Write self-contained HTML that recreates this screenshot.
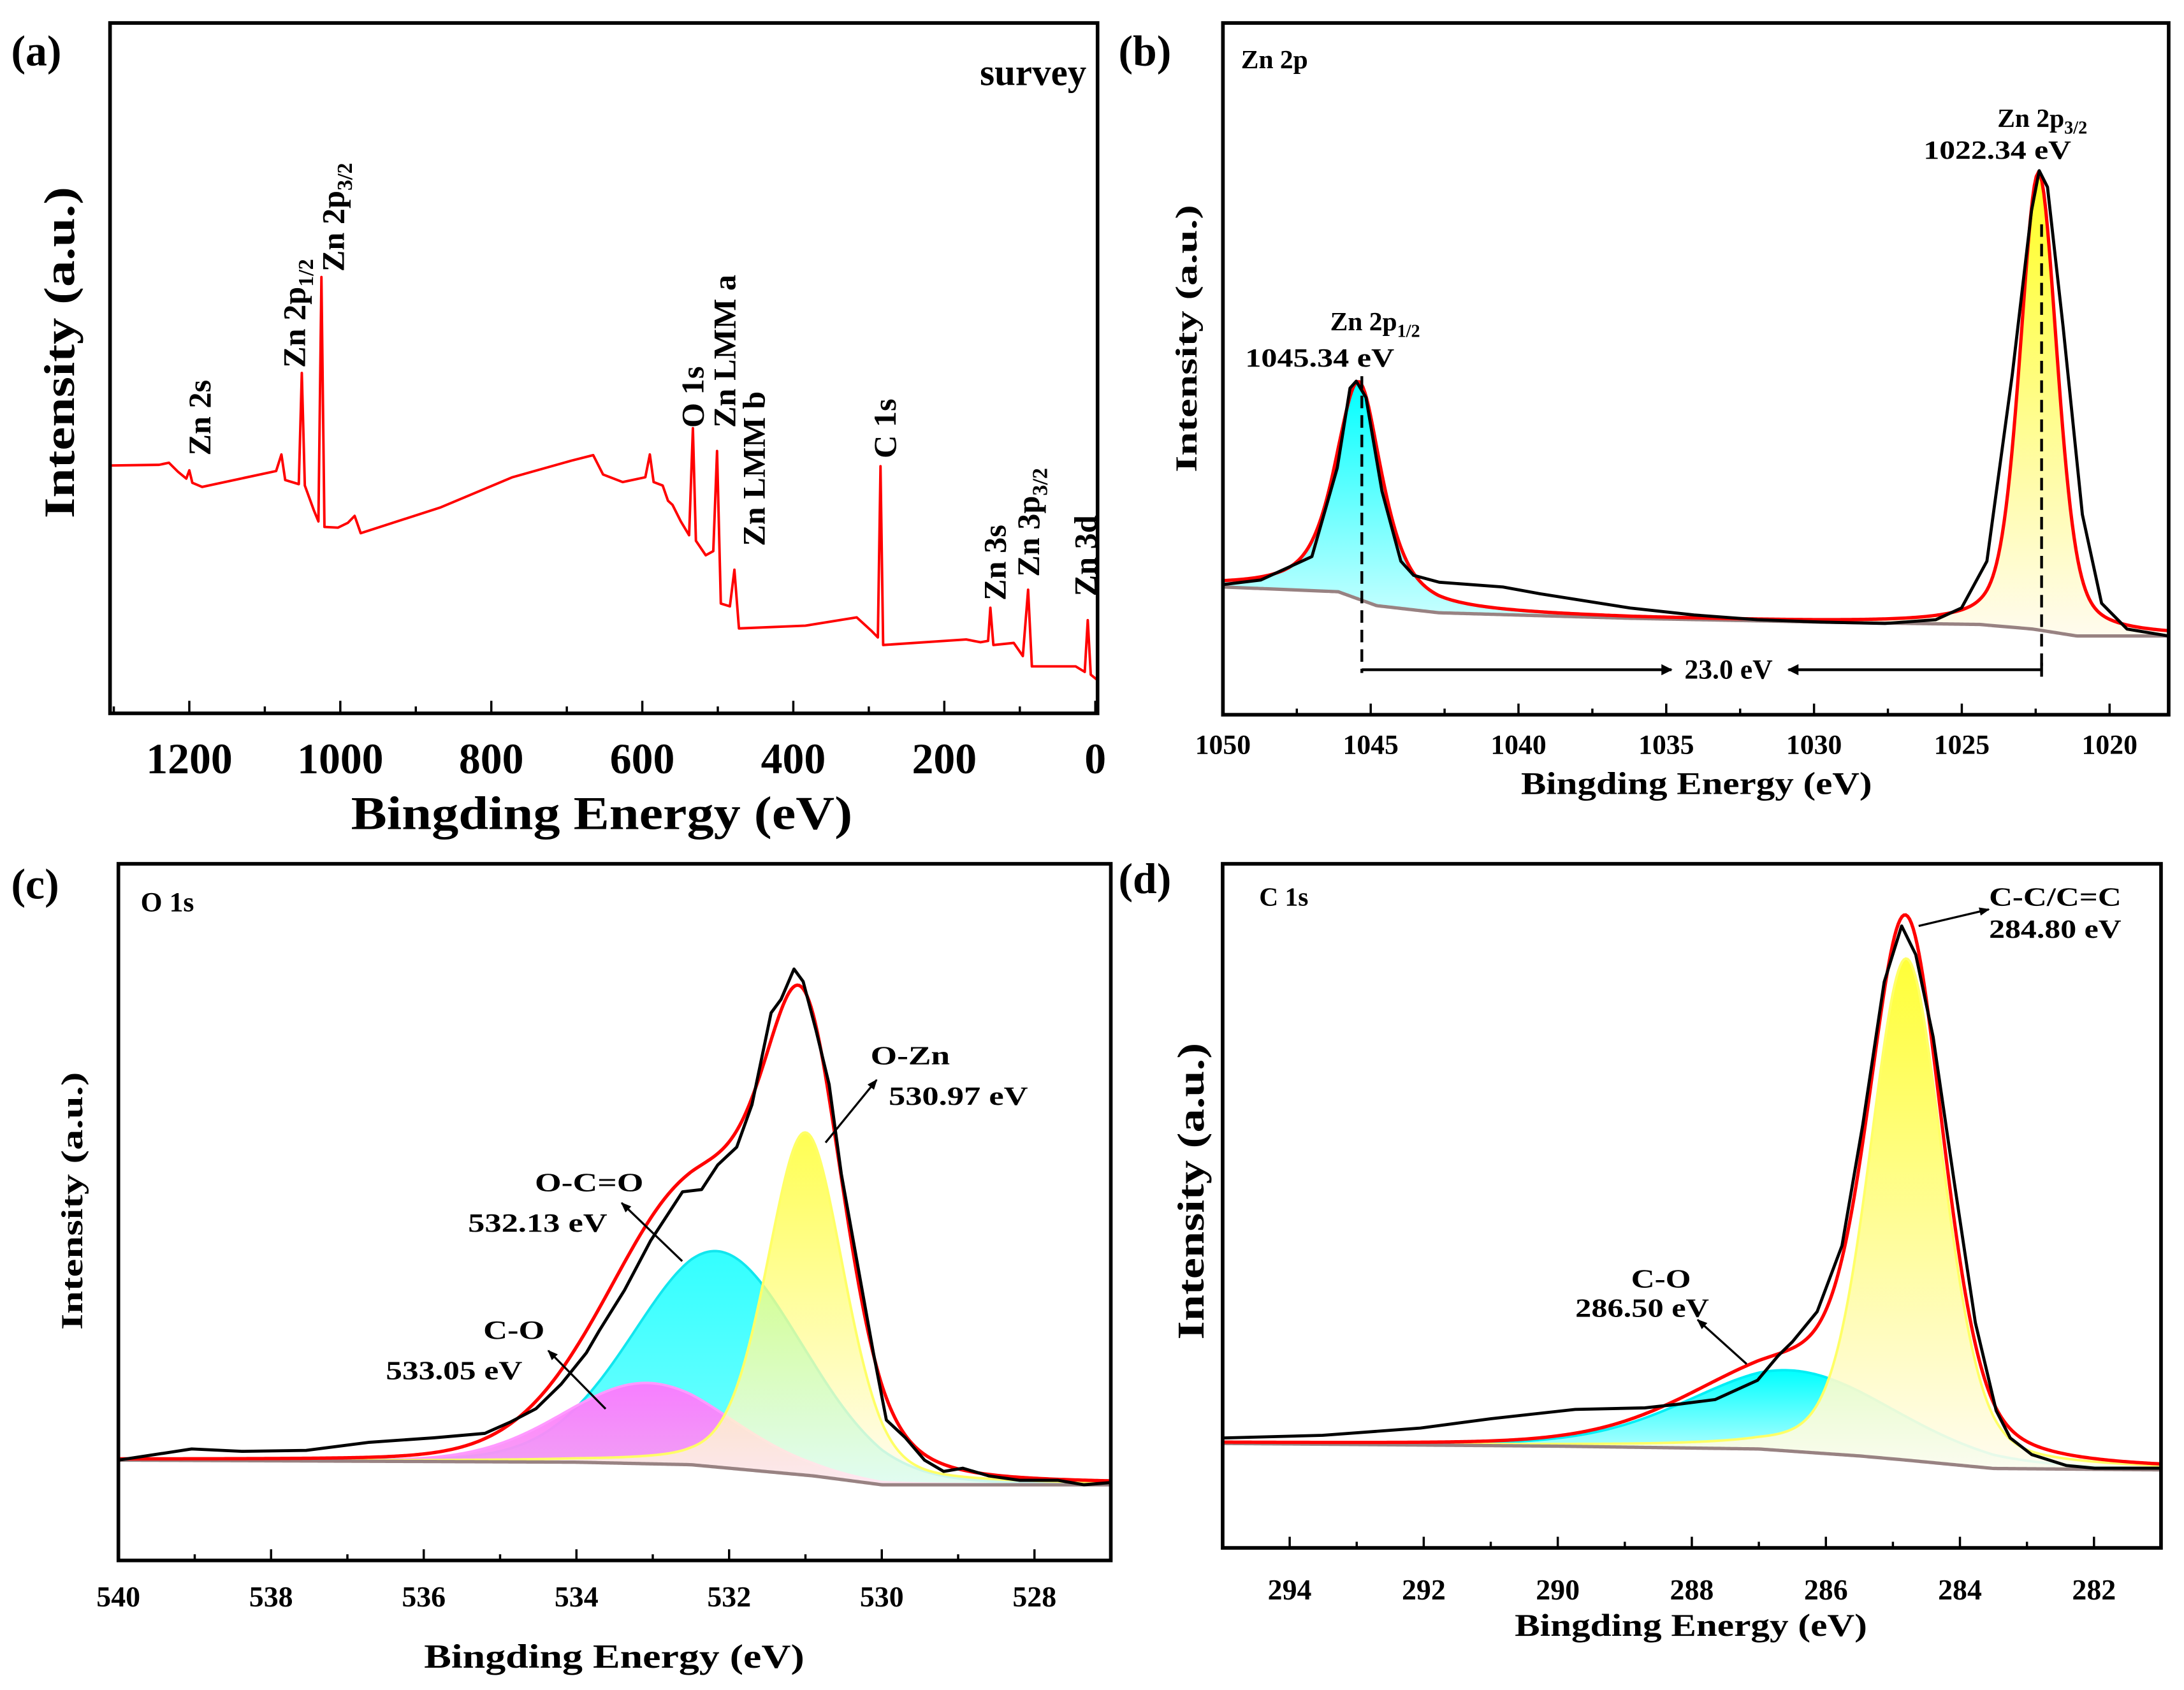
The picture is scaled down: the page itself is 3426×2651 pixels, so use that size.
<!DOCTYPE html>
<html><head><meta charset="utf-8"><title>XPS spectra</title>
<style>
html,body{margin:0;padding:0;background:#fff;}
svg{display:block;}
text{font-family:"Liberation Serif","Times New Roman",serif;font-weight:bold;fill:#000;}
</style></head>
<body>
<svg id="chart" xmlns="http://www.w3.org/2000/svg" width="3426" height="2651" viewBox="0 0 1568 1213" preserveAspectRatio="none" font-family="'Liberation Serif','Times New Roman',serif" font-weight="bold">
<defs>
<linearGradient id="gCyan" x1="0" y1="0" x2="0" y2="1"><stop offset="0" stop-color="#00ffff"/><stop offset="1" stop-color="#d8ffff"/></linearGradient>
<linearGradient id="gCyanC" x1="0" y1="0" x2="0" y2="1"><stop offset="0" stop-color="#33ffff"/><stop offset="1" stop-color="#7ff"/></linearGradient>
<linearGradient id="gYel" x1="0" y1="0" x2="0" y2="1"><stop offset="0" stop-color="#ffff22"/><stop offset="1" stop-color="#fffbee"/></linearGradient>
<linearGradient id="gMag" x1="0" y1="0" x2="0" y2="1"><stop offset="0" stop-color="#ff77ff"/><stop offset="1" stop-color="#f7a0f2"/></linearGradient>
<marker id="arrS" viewBox="0 0 10 10" refX="9" refY="5" markerWidth="5" markerHeight="5" orient="auto-start-reverse"><path d="M0,1 L10,5 L0,9 Z" fill="#000"/></marker>
<marker id="arrB" viewBox="0 0 10 10" refX="9" refY="5" markerWidth="5" markerHeight="4" orient="auto-start-reverse"><path d="M0,0 L10,5 L0,10 Z" fill="#000"/></marker>
<clipPath id="clipA"><rect x="79" y="16.5" width="709" height="495.5"/></clipPath>
<clipPath id="clipB"><rect x="878" y="16.5" width="679" height="496.5"/></clipPath>
<clipPath id="clipC"><rect x="85" y="620" width="712.5" height="500"/></clipPath>
<clipPath id="clipD"><rect x="877.8" y="620" width="673.7" height="491"/></clipPath>
</defs>
</svg>
<script>
// ---------- DATA ----------
// Panel (a) survey: binding energy (eV) and intensity (% of axis height)
const surveyE = [1304,1240,1227,1215,1204,1200,1196,1183,1085,1078,1073,1055,1051,1047,1035,1029,1025,1021,1003,990,981,973,868,772,694,665,652,626,596,590,585,573,566,560,549,538,533,529,516,506,501,496,484,478,472,384,316,297,288,284.5,281,171,152,142,139,135,108,96,89,84,26,14,10,6,-3];
const surveyI = [35.9,36.0,36.3,35.0,34.0,35.2,33.4,32.8,35.1,37.5,33.8,33.2,49.3,33.0,29.4,27.8,63.2,27.0,26.9,27.6,28.6,26.1,29.8,34.2,36.6,37.4,34.6,33.5,34.2,37.5,33.5,33.0,30.8,30.2,27.8,25.8,41.3,25.0,22.9,23.5,38.0,15.9,15.5,20.8,12.3,12.7,13.9,12.0,11.0,35.8,9.9,10.7,10.3,10.5,15.3,9.9,10.2,8.3,17.9,6.8,6.8,6.0,13.5,5.6,4.8];
const surveyTicks = [1200,1000,800,600,400,200,0];

// Panel (b) Zn 2p
const znRawE = [1050.0,1048.72,1046.99,1046.13,1045.7,1045.49,1045.16,1044.62,1043.98,1043.55,1042.68,1040.53,1039.24,1036.22,1034.06,1031.91,1029.75,1027.6,1025.88,1025.01,1024.15,1023.29,1022.64,1022.38,1022.1,1021.57,1020.92,1020.27,1019.41,1018.0];
const znRawI = [93.4,96.7,113.5,177.3,234.4,239.4,227.7,160.5,110.2,100.1,95.1,91.7,86.7,76.6,71.6,68.2,66.5,65.5,68.2,76.6,110.2,244.4,361.9,390.5,378.7,278,143.7,80,61.5,56.5];
const znBgE = [1050,1046.1,1044.8,1042.7,1036.2,1029.8,1024.4,1022.6,1021.1,1018];
const znBgI = [91.7,88.3,78.3,73.2,69.2,66.5,64.8,61.5,56.5,56.5];
const znPeakCenter = [1045.4,1022.4];
const znPeakHeight = [156,328];
const znPeakFwhm = [1.9,1.5];
const znPeakEta = [0.7,0.4];
const znTicks = [1050,1045,1040,1035,1030,1025,1020];

// Panel (c) O 1s
const oRawE = [540.0,539.04,538.38,537.54,536.71,535.87,535.2,534.87,534.53,534.2,533.87,533.7,533.37,533.03,532.61,532.36,532.15,531.9,531.7,531.45,531.32,531.15,531.03,530.86,530.69,530.53,530.32,530.11,529.94,529.69,529.44,529.19,528.94,528.6,528.19,527.69,527.35,527.0];
const oRawI = [72,80,78.3,79,84.8,88,91.2,99.2,108.9,126.5,149,165,194,229.3,264.6,266.2,283.8,296.7,327.2,393,402.7,424.5,415.5,380.2,341.7,277.4,213.2,149,100.8,88,72,63.9,66.2,60.7,57.5,57.5,54.3,55.9];
const oBgE = [540,534,532.5,530.9,530,527];
const oBgI = [72,70.5,68.7,60.7,54.3,54.3];
const oPeakCenter = [532.15,533.07,531.0];
const oPeakHeight = [155,58,246];
const oPeakFwhm = [2.6,2.6,1.2];
const oPeakEta = [0.1,0.1,0.3];
const oTicks = [540,538,536,534,532,530,528];

// Panel (d) C 1s
const cRawE = [294.98,293.51,292.05,291.0,289.74,288.70,288.17,287.65,287.02,286.71,286.50,286.13,285.76,285.45,285.13,284.87,284.66,284.40,284.09,283.77,283.46,283.25,282.93,282.41,281.99,281.0];
const cRawI = [78.9,80.8,86,92.7,99.4,100.5,103.3,106.5,120.3,138,147.9,169.6,216.9,303.7,406.2,446.4,425.9,366.8,264.2,161.7,98.6,78.9,67.0,59.1,57.2,57.2];
const cBgE = [295,290,287,285.5,284.8,283.5,281];
const cBgI = [75,73,71,66,63,57,56];
const cPeakCenter = [286.5,284.8];
const cPeakHeight = [58,360];
const cPeakFwhm = [3.6,1.3];
const cPeakEta = [0.2,0.3];
const cTicks = [294,292,290,288,286,284,282];

// ---------- HELPERS ----------
const NS='http://www.w3.org/2000/svg';
const svg=document.getElementById('chart');
const FONT="'Liberation Serif','Times New Roman',serif";
function mk(tag, attrs, parent){const e=document.createElementNS(NS,tag);for(const k in attrs)e.setAttribute(k,attrs[k]);(parent||svg).appendChild(e);return e;}
function scaleX(p,E){return p.x0+(p.eL-E)/(p.eL-p.eR)*(p.x1-p.x0);}
function scaleY(p,I){return p.y1-I/p.iMax*(p.y1-p.y0);}
function interp(xs,ys,x){
  if(x>=xs[0])return ys[0]; if(x<=xs[xs.length-1])return ys[ys.length-1];
  for(let i=0;i<xs.length-1;i++){if(x<=xs[i]&&x>=xs[i+1]){const t=(xs[i]-x)/(xs[i]-xs[i+1]);return ys[i]+t*(ys[i+1]-ys[i]);}}
  return ys[0];
}
function pv(E,c,A,w,eta){const d=(E-c)/w;return A*(eta/(1+4*d*d)+(1-eta)*Math.exp(-4*Math.LN2*d*d));}
function pathOf(p,Es,Is){return Es.map((e,i)=>(i?'L':'M')+scaleX(p,e).toFixed(2)+','+scaleY(p,Is[i]).toFixed(2)).join(' ');}
function grid(p,n){const a=[];for(let i=0;i<=n;i++)a.push(p.eL-(p.eL-p.eR)*i/n);return a;}

function frame(p,g){
  const r=mk('rect',{x:p.x0,y:p.y0,width:p.x1-p.x0,height:p.y1-p.y0,fill:'none',stroke:'#000','stroke-width':2.6},g);
  
  
}
function minorTick(p,tg,m,len){
  if(m<p.eL&&m>p.eR){const xm=scaleX(p,m);
    const tm=mk('line',{x1:xm,x2:xm,y1:p.y1,y2:p.y1-len*0.55,stroke:'#000','stroke-width':1.6},tg);
    
    }
}
function ticks(p,g,major,step,len,fs,labelY){
  const tg=mk('g',{},g);
  
  
  major.forEach(v=>{
    const x=scaleX(p,v);
    const t=mk('line',{x1:x,x2:x,y1:p.y1,y2:p.y1-len,stroke:'#000','stroke-width':1.6},tg);
    
    
    minorTick(p,tg,v-step/2,len);
    const lb=mk('text',{x:x,y:labelY,'font-size':fs,'text-anchor':'middle','font-family':FONT,'font-weight':'bold'},tg);
    lb.textContent=String(v);
    
    
  });
  minorTick(p,tg,major[0]+step/2,len);
}
function txt(g,s,x,y,fs,opts){
  const a={x:x,y:y,'font-size':fs,'font-family':FONT,'font-weight':'bold'};
  if(opts&&opts.anchor)a['text-anchor']=opts.anchor;
  if(opts&&opts.len){a.textLength=opts.len;a.lengthAdjust='spacingAndGlyphs';}
  if(opts&&opts.rot){a.transform='rotate(-90 '+x+' '+y+')';}
  const t=mk('text',a,g);t.textContent=s;return t;
}
function txtSub(g,main,sub,x,y,fs,rot){
  const a={x:x,y:y,'font-size':fs,'font-family':FONT,'font-weight':'bold'};
  if(rot)a.transform='rotate(-90 '+x+' '+y+')';
  const t=mk('text',a,g);
  const t1=mk('tspan',{},t);t1.textContent=main;
  const t2=mk('tspan',{'font-size':fs*0.68,dy:fs*0.25},t);t2.textContent=sub;
  return t;
}
function fitPanel(p,g,clip,bgE,bgI,cen,hei,fw,eta,fills,strokes,opac,rawE,rawI){
  const Es=grid(p,500);
  const bg=Es.map(e=>interp(bgE,bgI,e));
  const cg=mk('g',{'clip-path':'url(#'+clip+')'},g);
  cen.forEach((c,k)=>{
    const comp=Es.map((e,i)=>bg[i]+pv(e,c,hei[k],fw[k],eta[k]));
    let d=pathOf(p,Es,comp);
    for(let i=Es.length-1;i>=0;i--)d+=' L'+scaleX(p,Es[i]).toFixed(2)+','+scaleY(p,bg[i]).toFixed(2);
    const f=mk('path',{d:d+' Z',fill:fills[k],'fill-opacity':opac[k],stroke:'none'},cg);
    
    
    const s=mk('path',{d:pathOf(p,Es,comp),fill:'none',stroke:strokes[k],'stroke-width':1.8},cg);
    
    
  });
  const bl=mk('path',{d:pathOf(p,Es,bg),fill:'none',stroke:'#988282','stroke-width':2.4},cg);
  
  
  const env=Es.map((e,i)=>{let s=bg[i];cen.forEach((c,k)=>{s+=pv(e,c,hei[k],fw[k],eta[k]);});return s;});
  const rl=mk('path',{d:pathOf(p,Es,env),fill:'none',stroke:'#ff0000','stroke-width':2.4},cg);
  
  
  const raw=mk('path',{d:pathOf(p,rawE,rawI),fill:'none',stroke:'#000','stroke-width':2.2,'stroke-linejoin':'round'},cg);
  
  
}
function arrow(g,x1,y1,x2,y2,mark,w){
  return mk('line',{x1:x1,y1:y1,x2:x2,y2:y2,stroke:'#000','stroke-width':w||1.4,'marker-end':'url(#'+mark+')'},g);
}

// ---------- PANEL A ----------
const PA={x0:79,x1:788,y0:16.5,y1:512,eL:1305,eR:-3,iMax:100};
const gA=mk('g',{});


const sl=mk('path',{d:pathOf(PA,surveyE,surveyI),fill:'none',stroke:'#ff0000','stroke-width':1.8,'stroke-linejoin':'round','clip-path':'url(#clipA)'},gA);


frame(PA,gA);
ticks(PA,gA,surveyTicks,200,9,31,555);
let t;
t=txt(gA,'(a)',8,47,31);
t=txt(gA,'survey',780,61,27,{anchor:'end'});
t=txt(gA,'Intensity (a.u.)',53,253,31,{anchor:'middle',rot:true,len:238});
t=txt(gA,'Bingding Energy (eV)',432,595,34,{anchor:'middle',len:360});
t=txt(gA,'Zn 2s',151,327,23,{rot:true});
t=txtSub(gA,'Zn 2p','1/2',219,264,23,true);
t=txtSub(gA,'Zn 2p','3/2',247,195,23,true);
t=txt(gA,'O 1s',505,307,23,{rot:true});
t=txt(gA,'Zn LMM a',528,307,23,{rot:true});
t=txt(gA,'Zn LMM b',549,392,23,{rot:true});
t=txt(gA,'C 1s',643,329,23,{rot:true});
t=txt(gA,'Zn 3s',722,431,23,{rot:true});
t=txtSub(gA,'Zn 3p','3/2',746,414,23,true);
t=txt(gA,'Zn 3d',787,428,23,{rot:true});

// ---------- PANEL B ----------
const PB={x0:878,x1:1557,y0:16.5,y1:513,eL:1050,eR:1018,iMax:496.5};
const gB=mk('g',{});


fitPanel(PB,gB,'clipB',znBgE,znBgI,znPeakCenter,znPeakHeight,znPeakFwhm,znPeakEta,['url(#gCyan)','url(#gYel)'],['#00e8f0','#ffff55'],[1,1],znRawE,znRawI);
[[0,237],[1,128]].forEach(([k,yt])=>{
  const x=scaleX(PB,znPeakCenter[k]-0.1);
  const dl=mk('line',{x1:x,x2:x,y1:yt+33,y2:483,stroke:'#000','stroke-width':2,'stroke-dasharray':'9,5'},gB);
  
  
});
const ay=480.7;
const aL=scaleX(PB,znPeakCenter[0]-0.1), aR=scaleX(PB,znPeakCenter[1]-0.1);
let a1=arrow(gB,aL,ay,1200,ay,'arrB',2);


let a2=arrow(gB,aR,ay,1284,ay,'arrB',2);


let tk=mk('line',{x1:aR,x2:aR,y1:ay-5,y2:ay+5,stroke:'#000','stroke-width':2},gB);


frame(PB,gB);
ticks(PB,gB,znTicks,5,8,20,541);
t=txt(gB,'(b)',803,47,31);
t=txt(gB,'Zn 2p',891,49,19);
t=txt(gB,'23.0 eV',1241,487,20,{anchor:'middle'});
t=txtSub(gB,'Zn 2p','1/2',955,237,19,false);
t=txt(gB,'1045.34 eV',894,263,19,{len:107});
t=txtSub(gB,'Zn 2p','3/2',1434,91,19,false);
t=txt(gB,'1022.34 eV',1381,114,19,{len:106});
t=txt(gB,'Intensity (a.u.)',859,243,22,{anchor:'middle',rot:true,len:192});
t=txt(gB,'Bingding Energy (eV)',1218,570,23,{anchor:'middle',len:252});

// ---------- PANEL C ----------
const PC={x0:85,x1:797.5,y0:620,y1:1120,eL:540,eR:527,iMax:500};
const gC=mk('g',{});


fitPanel(PC,gC,'clipC',oBgE,oBgI,oPeakCenter,oPeakHeight,oPeakFwhm,oPeakEta,['url(#gCyanC)','url(#gMag)','url(#gYel)'],['#11e6ee','#ff99ff','#ffff66'],[1,0.95,0.78],oRawE,oRawI);
frame(PC,gC);
ticks(PC,gC,oTicks,2,8,21,1153);
t=txt(gC,'(c)',8,645,31);
t=txt(gC,'O 1s',101,654,20);
t=txt(gC,'O-Zn',625,764,19,{len:57});
t=txt(gC,'530.97 eV',638,793,19,{len:100});
let ac=arrow(gC,592.7,820.1,629.4,775.1,'arrS',1.5);
t=txt(gC,'O-C=O',384,855,19,{len:78});
t=txt(gC,'532.13 eV',336,884,19,{len:100});
ac=arrow(gC,489.8,905.2,446.3,863.4,'arrS',1.5);
t=txt(gC,'C-O',347,961,19,{len:44});
t=txt(gC,'533.05 eV',277,990,19,{len:98});
ac=arrow(gC,434.8,1011.2,393.6,969.4,'arrS',1.5);
t=txt(gC,'Intensity (a.u.)',59,862,22,{anchor:'middle',rot:true,len:185});
t=txt(gC,'Bingding Energy (eV)',441,1197,24,{anchor:'middle',len:273});

// ---------- PANEL D ----------
const PD={x0:877.8,x1:1551.5,y0:620,y1:1111,eL:295,eR:281,iMax:491};
const gD=mk('g',{});


fitPanel(PD,gD,'clipD',cBgE,cBgI,cPeakCenter,cPeakHeight,cPeakFwhm,cPeakEta,['url(#gCyan)','url(#gYel)'],['#00eef5','#ffff66'],[1,0.9],cRawE,cRawI);
frame(PD,gD);
ticks(PD,gD,cTicks,2,8,21,1148);
t=txt(gD,'(d)',803,641,31);
t=txt(gD,'C 1s',904,650,19);
t=txt(gD,'C-C/C=C',1428,650,19,{len:95});
t=txt(gD,'284.80 eV',1428,673,19,{len:95});
let ad=arrow(gD,1377.5,664.6,1427.9,652.7,'arrS',1.5);
t=txt(gD,'C-O',1171,924,19,{len:43});
t=txt(gD,'286.50 eV',1131,945,19,{len:96});
ad=arrow(gD,1254,979,1218.8,947.3,'arrS',1.5);
t=txt(gD,'Intensity (a.u.)',864,855,27,{anchor:'middle',rot:true,len:213});
t=txt(gD,'Bingding Energy (eV)',1214,1174,23,{anchor:'middle',len:253});
</script>
</body></html>
